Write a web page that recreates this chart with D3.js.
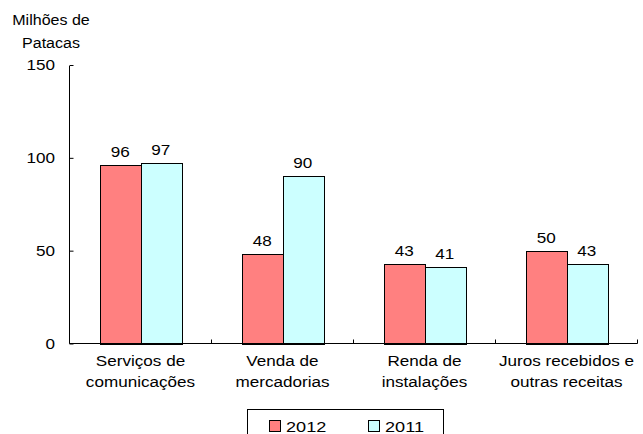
<!DOCTYPE html>
<html lang="pt">
<head>
  <meta charset="UTF-8">
  <title>Receitas</title>
  <script src="https://d3js.org/d3.v7.min.js"></script>
  <style>
    body { margin: 0; background: #fff; }
    svg { display: block; font-family: "Liberation Sans", Arial, sans-serif; }
  </style>
</head>
<body>
<svg width="643" height="434"></svg>
<script>
  const categories = [
    ["Serviços de", "comunicações"],
    ["Venda de", "mercadorias"],
    ["Renda de", "instalações"],
    ["Juros recebidos e", "outras receitas"]
  ]
  const series = ["2012", "2011"]
  const values2012 = [96, 48, 43, 50]
  const values2011 = [97, 90, 41, 43]
  const yTicks = [0, 50, 100, 150]
  const colors = ["#FF8080", "#CCFFFF"]

  const svg = d3.select("svg")
  const mLeft = 69.5, mRight = 637.5, mTop = 65, mBottom = 343.5
  const fs = 14.5, sx = 1.18

  // text stretched horizontally like the original
  function label(sel, x, y, anchor, stretch) {
    return sel
      .attr("x", 0).attr("y", 0)
      .attr("text-anchor", anchor)
      .attr("font-size", fs)
      .attr("transform", (d, i) => `translate(${x(d, i)},${y(d, i)}) scale(${stretch || sx},1)`)
  }

  const x = d3.scaleBand()
    .domain(d3.range(categories.length))
    .range([mLeft, mRight])
    .paddingInner(0).paddingOuter(0)
  const x1 = d3.scaleBand()
    .domain(series)
    .range([0, x.bandwidth()])
    .paddingOuter(0.75)
    .paddingInner(0)
  const y = d3.scaleLinear().domain([0, 150]).range([mBottom, mTop])

  const data = series.map((s, i) => ({
    name: s,
    values: i === 0 ? values2012 : values2011
  }))

  // bars
  const groups = svg.append("g")
    .selectAll("g")
    .data(data)
    .join("g")
    .attr("fill", (d, i) => colors[i])

  groups.selectAll("rect")
    .data(d => d.values.map((v, j) => ({ s: d.name, v, j })))
    .join("rect")
    .attr("x", d => Math.round(x(d.j) + x1(d.s)) + 0.5)
    .attr("width", Math.round(x1.bandwidth()))
    .attr("y", d => Math.round(y(d.v)) + 0.5)
    .attr("height", d => Math.round(mBottom) - Math.round(y(d.v)))
    .attr("stroke", "#000")
    .attr("stroke-width", 1)

  // value labels
  groups.selectAll("text")
    .data(d => d.values.map((v, j) => ({ s: d.name, v, j })))
    .join("text")
    .call(label, d => x(d.j) + x1(d.s) + x1.bandwidth() / 2, d => y(d.v) - 8, "middle")
    .attr("fill", "#000")
    .text(d => d.v)

  // y axis
  const yAxis = svg.append("g")
    .attr("transform", `translate(${mLeft},0)`)
    .call(d3.axisRight(y).tickValues(yTicks).tickSize(4).tickFormat(""))
  yAxis.select(".domain").attr("d", `M0,${mTop + 1}V${mBottom}`)
  svg.append("g")
    .selectAll("text")
    .data(yTicks)
    .join("text")
    .call(label, () => 55, d => y(d) + 5, "end")
    .text(d => d)

  // x axis
  const xAxis = svg.append("g")
  xAxis.append("line")
    .attr("x1", mLeft).attr("x2", mRight)
    .attr("y1", mBottom).attr("y2", mBottom)
    .attr("stroke", "#000")
  xAxis.selectAll("line.tick")
    .data(d3.range(categories.length + 1))
    .join("line")
    .attr("class", "tick")
    .attr("x1", d => mLeft + d * x.step())
    .attr("x2", d => mLeft + d * x.step())
    .attr("y1", mBottom).attr("y2", mBottom - 4)
    .attr("stroke", "#000")

  const catLines = categories.flatMap((c, i) => c.map((t, k) => ({ t, i, k })))
  svg.append("g")
    .selectAll("text")
    .data(catLines)
    .join("text")
    .call(label, d => x(d.i) + x.bandwidth() / 2, d => 366 + d.k * 21, "middle")
    .text(d => d.t)

  // axis title
  svg.append("g")
    .selectAll("text")
    .data(["Milhões de", "Patacas"])
    .join("text")
    .call(label, () => 51, (d, i) => 25 + i * 23, "middle", 1.07)
    .attr("font-size", 15)
    .text(d => d)

  // legend
  const legend = svg.append("g")
  legend.append("rect")
    .attr("x", 247.5).attr("y", 409.5)
    .attr("width", 196).attr("height", 40)
    .attr("fill", "#fff").attr("stroke", "#000")
  const item = legend.selectAll("g")
    .data(series)
    .join("g")
    .attr("transform", (d, i) => `translate(${269 + i * 99},0)`)
  item.append("rect")
    .attr("x", 0.5).attr("y", 420.5)
    .attr("width", 11).attr("height", 11)
    .attr("fill", (d, i) => colors[i])
    .attr("stroke", "#000")
  item.append("text")
    .call(label, () => 17, () => 432, "start", 1.25)
    .text(d => d)
</script>
</body>
</html>
